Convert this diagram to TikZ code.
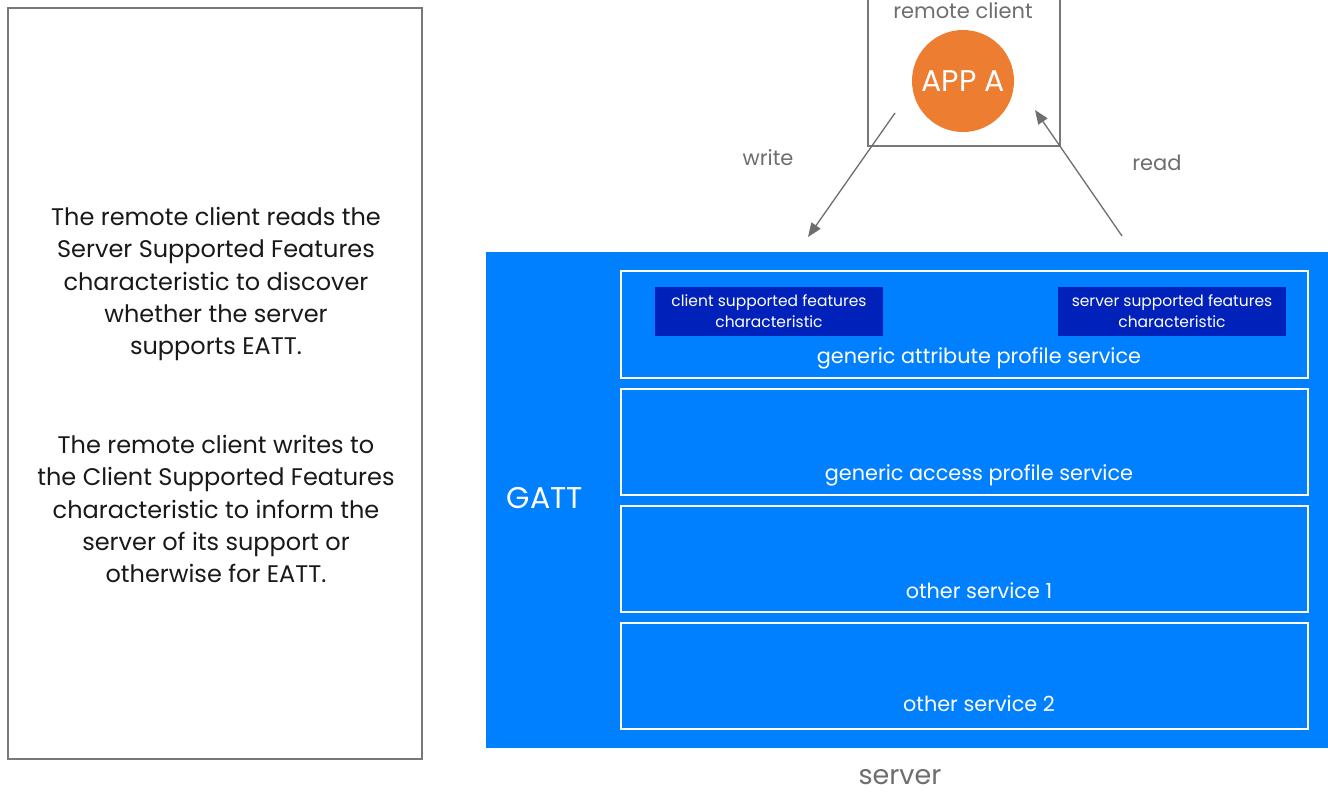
\documentclass[tikz,border=0pt]{standalone}
\usepackage{fontspec}
\setmainfont{Poppins}
\usetikzlibrary{arrows.meta}
\definecolor{srvblue}{RGB}{0,128,255}
\definecolor{darkblue}{RGB}{0,34,187}
\definecolor{appor}{RGB}{237,125,49}
\definecolor{lgray}{RGB}{110,110,110}
\definecolor{bgray}{RGB}{120,120,120}
\tikzset{
  svcbox/.style={draw=white, line width=1.3pt},
  charbox/.style={fill=darkblue, draw=none, text=white, align=center, font=\fontsize{15.5}{21}\selectfont},
  svclabel/.style={text=white, font=\fontsize{20.8}{25}\selectfont},
  graylabel/.style={text=lgray, inner sep=0pt, font=\fontsize{21}{24}\selectfont},
  flow/.style={draw=lgray, line width=1.3pt, -{Triangle[length=14pt,width=11pt]}},
  desc/.style={align=center, text=black!90, font=\fontsize{24}{32.3}\selectfont}
}
\begin{document}
\begin{tikzpicture}[x=1pt,y=-1pt]
\useasboundingbox (0,0) rectangle (1328,793);
\fill[white] (0,0) rectangle (1328,793);
% left description box
\draw[draw=bgray, line width=1.2pt] (8,8) rectangle (422,759);
\node[desc] (p1) at (216,284) {The remote client reads the\\Server Supported Features\\characteristic to discover\\whether the server\\supports EATT.};
\node[desc] (p2) at (216,509) {The remote client writes to\\the Client Supported Features\\characteristic to inform the\\server of its support or\\otherwise for EATT.};
% remote client
\draw[draw=bgray, line width=1.2pt] (868,-10) rectangle (1060,146);
\node[graylabel] (rc) at (963,11) {remote client};
\node[circle, fill=appor, minimum size=102pt, inner sep=0pt, text=white, font=\fontsize{30}{32}\selectfont] (app) at (963,81) {APP A};
% server
\fill[srvblue] (486,252) rectangle (1328,748);
\node[text=white, font=\fontsize{30}{32}\selectfont] (gatt) at (545,498) {GATT};
\draw[svcbox] (621,271) rectangle (1308,378);
\draw[svcbox] (621,389) rectangle (1308,495);
\draw[svcbox] (621,506) rectangle (1308,612);
\draw[svcbox] (621,623) rectangle (1308,729);
\node[svclabel] (s1) at (979,358) {generic attribute profile service};
\node[svclabel] (s2) at (979,475) {generic access profile service};
\node[svclabel] (s3) at (979,591) {other service 1};
\node[svclabel] (s4) at (979,704) {other service 2};
\node[charbox, minimum width=228pt, minimum height=49pt] (csf) at (769,311.5) {client supported features\\characteristic};
\node[charbox, minimum width=228pt, minimum height=49pt] (ssf) at (1172,311.5) {server supported features\\characteristic};
\node[text=lgray, inner sep=0pt, font=\fontsize{27}{30}\selectfont] (srv) at (900,777) {server};
% arrows
\coordinate (wstart) at (895,113);
\coordinate (wend) at (808,237);
\coordinate (rstart) at (1122,236);
\coordinate (rend) at (1035,110);
\draw[flow] (wstart) -- (wend);
\draw[flow] (rstart) -- (rend);
\node[graylabel] (wl) at (768,158) {write};
\node[graylabel] (rl) at (1157,163) {read};
\end{tikzpicture}
\end{document}
